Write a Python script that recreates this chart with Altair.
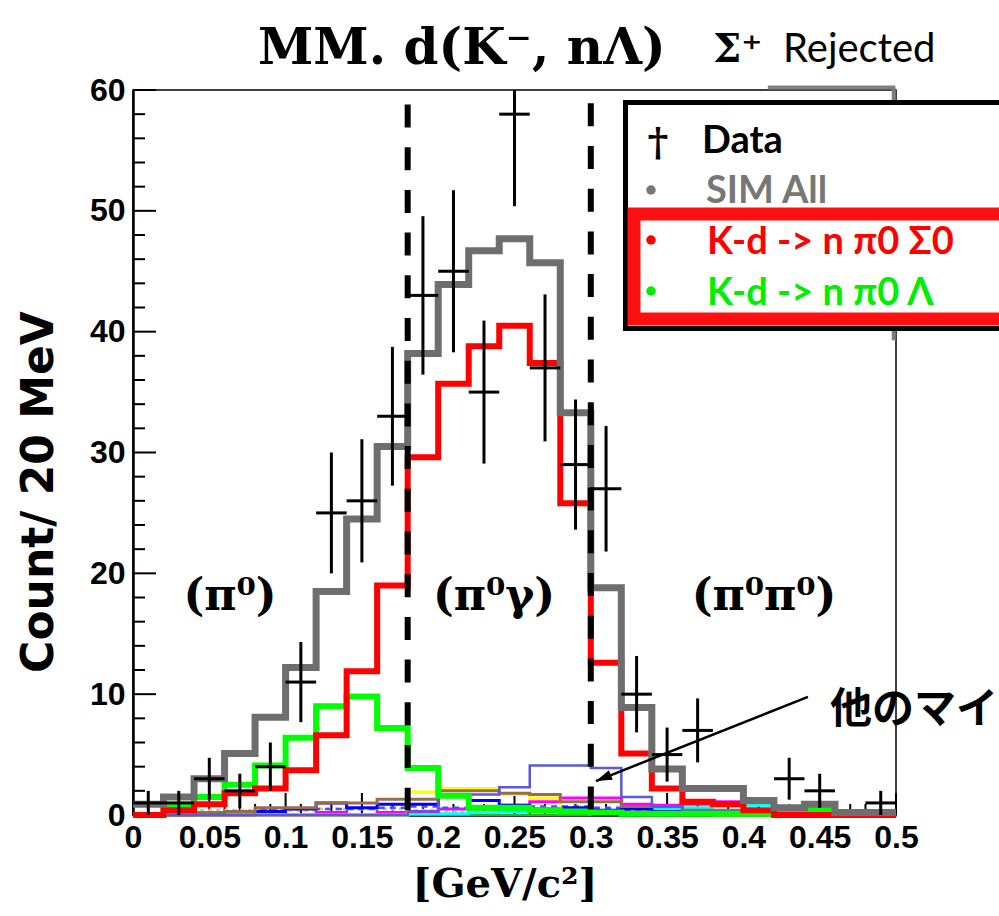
import altair as alt
import numpy as np
import pandas as pd

# ---- 20 MeV bins of the missing mass MM.d(K-, nΛ) in GeV/c^2 ----
bin_lo = [round(0.02 * i, 2) for i in range(25)]
bin_hi = [round(0.02 * (i + 1), 2) for i in range(25)]
bin_center = [round(0.02 * i + 0.01, 2) for i in range(25)]

# measured counts per bin
data_counts = [1, 1, 3, 2, 4, 11, 25, 26, 33, 43, 45, 35, 58, 37, 29, 27, 10, 5, 7, 0, 0, 3, 2, 0, 1]

# simulation: sum of all channels and the two main channels
sim_all = [0.9, 1.5, 3.0, 5.1, 8.1, 12.2, 18.5, 24.5, 30.5, 38.2, 43.9, 46.7, 47.7, 45.7,
           33.3, 18.8, 8.9, 3.8, 2.2, 2.2, 1.2, 0.6, 0.9, 0.2, 0.2]
sim_sigma0 = [0, 0.4, 0.9, 1.8, 2.2, 3.7, 6.6, 11.9, 19.0, 29.6, 35.7, 38.8, 40.5, 37.4,
              25.8, 12.6, 5.1, 2.2, 1.1, 0.9, 0.4, 0, 0, 0, 0]
sim_lambda = [0, 0.7, 1.5, 2.5, 4.1, 6.4, 9.0, 9.8, 7.2, 3.9, 1.6, 0.6, 0.6, 0.4,
              0.3, 0.2, 0.1, 0.1, 0.1, 0.1, 0.1, 0.1, 0.4, 0.1, 0]

# minor channels
minor_slate = [0, 0, 0, 0, 0, 0, 0, 0, 0, 0.3, 1.6, 1.7, 2.3, 4.1, 4.1, 3.9, 1.5, 0.7, 0.3, 0.3, 0.2, 0.1, 0, 0, 0]
minor_brown = [0, 0, 0.2, 0.3, 0.6, 0.6, 1.0, 1.0, 1.3, 1.3, 2.0, 2.0, 1.8, 1.7, 1.1, 1.1, 0.7, 0.7, 0.4, 0.4, 0.2, 0.2, 0.1, 0, 0]
minor_yellow = [0, 0, 0, 0, 0, 0, 0, 0, 0, 1.9, 2.2, 2.2, 1.7, 1.4, 0.3, 0.3, 0.2, 0.1, 0.1, 0, 0, 0, 0, 0, 0]
minor_blue = [0, 0, 0, 0, 0.3, 0.5, 1.0, 0.6, 0.9, 0.9, 1.7, 1.2, 0.8, 0.5, 0.6, 0.4, 0.5, 0.3, 0.2, 0.1, 0, 0, 0, 0, 0]
minor_magenta = [0, 0, 0, 0, 0, 0, 0.2, 0, 0.2, 0.3, 0.5, 0.5, 0.8, 1.1, 1.4, 1.4, 0.9, 0.8, 0.9, 1.1, 1.1, 0.4, 0.2, 0, 0]
minor_cyan = [0, 0, 0, 0, 0, 0, 0, 0, 0, 0.1, 0.1, 0.2, 0.3, 0.3, 0.3, 0.3, 0.7, 0.5, 0.6, 0.8, 0.8, 0.3, 0, 0, 0]
minor_tan = [0, 0.3, 0.4, 0.4, 0.4, 0.4, 0.5, 0.5, 0.5, 0.4, 0.3, 0.3, 0.3, 0.3, 0.4, 0.3, 0.3, 0.2, 0.1, 0.1, 0, 0, 0, 0, 0]
minor_dashblue = [0, 0, 0, 0, 0.4, 0.5, 0.5, 0.5, 0.6, 0.7, 0.6, 0.6, 0.7, 0.7, 0.7, 0.6, 0.4, 0.2, 0.1, 0, 0, 0, 0, 0, 0]
minor_dkgreen = [0] * 15 + [0.1] * 8 + [0, 0]

# selection cuts (GeV/c^2)
cut_edges = [0.18, 0.30]

# axis tick values
x_major = [round(0.05 * i, 2) for i in range(11)]
x_minor = [round(0.01 * i, 2) for i in range(51) if i % 5 != 0]
y_major = [0, 10, 20, 30, 40, 50, 60]
y_minor = [v for v in range(0, 61, 2) if v % 10 != 0]

# annotation arrow (tail -> head) in data units
arrow_x = [0.4423, 0.3034]
arrow_y = [9.77, 2.81]

W, H = 763, 725

X_SCALE = alt.Scale(domain=[0, 0.5], nice=False, zero=False)
Y_SCALE = alt.Scale(domain=[0, 60], nice=False, zero=False)
X_AXIS = alt.Axis(values=x_major, format="~g", ticks=False, grid=False, labelFlush=False,
                  domainColor="black", domainWidth=2.5, labelPadding=7, title=None)
Y_AXIS = alt.Axis(values=y_major, format="d", ticks=False, grid=False, labelFlush=False,
                  domainColor="black", domainWidth=2.5, labelPadding=8, title=None)


def X(field):
    return alt.X(field, type="quantitative", scale=X_SCALE, axis=X_AXIS)


def Y(field):
    return alt.Y(field, type="quantitative", scale=Y_SCALE, axis=Y_AXIS)


def step_line(values, color, width, dash=None):
    df = pd.DataFrame({"x": bin_lo + [0.5], "y": list(values) + [values[-1]]})
    kw = dict(interpolate="step-after", color=color, strokeWidth=width,
              strokeJoin="miter", strokeCap="butt")
    if dash:
        kw["strokeDash"] = dash
    return alt.Chart(df).mark_line(**kw).encode(x=X("x"), y=Y("y"))


one = pd.DataFrame({"k": [0]})


def label(text, x, y, size, font, color="black", weight="bold", align="left",
          baseline="alphabetic", angle=None):
    kw = dict(text=text, font=font, fontSize=size, fontWeight=weight, color=color,
              align=align, baseline=baseline)
    if angle is not None:
        kw["angle"] = angle
    return alt.Chart(one).mark_text(**kw).encode(x=alt.value(x), y=alt.value(y))


layers = []

# axis ticks drawn inside the frame
layers.append(alt.Chart(pd.DataFrame({"v": y_major})).mark_rule(color="black", strokeWidth=2)
              .encode(y=Y("v"), x=alt.value(0), x2=alt.value(23)))
layers.append(alt.Chart(pd.DataFrame({"v": y_minor})).mark_rule(color="black", strokeWidth=2)
              .encode(y=Y("v"), x=alt.value(0), x2=alt.value(12)))
layers.append(alt.Chart(pd.DataFrame({"v": x_major})).mark_rule(color="black", strokeWidth=2)
              .encode(x=X("v"), y=alt.value(H), y2=alt.value(H - 22)))
layers.append(alt.Chart(pd.DataFrame({"v": x_minor})).mark_rule(color="black", strokeWidth=2)
              .encode(x=X("v"), y=alt.value(H), y2=alt.value(H - 11)))

# minor simulated channels
layers += [
    step_line(minor_dkgreen, "#22bb22", 2),
    step_line(minor_tan, "#d6c68e", 3, [4, 4]),
    step_line(minor_cyan, "#00ffff", 3),
    step_line(minor_magenta, "#ff00ff", 3),
    step_line(minor_dashblue, "#4d4dff", 2.5, [6, 5]),
    step_line(minor_blue, "#0000ff", 3),
    step_line(minor_yellow, "#ffff00", 3),
    step_line(minor_brown, "#9a6a4c", 3),
    step_line(minor_slate, "#5a5ad8", 2.5),
]

# main channels and total
layers += [
    step_line(sim_lambda, "#00ff00", 6),
    step_line(sim_sigma0, "#ff0000", 6),
    step_line(sim_all, "#6e6e6e", 7),
]

# data points with sqrt(N) error bars
ddf = pd.DataFrame({"lo": bin_lo, "hi": bin_hi, "c": bin_center, "n": data_counts})
ddf = ddf[ddf["n"] > 0].copy()
ddf["elo"] = ddf["n"] - np.sqrt(ddf["n"])
ddf["ehi"] = ddf["n"] + np.sqrt(ddf["n"])
layers.append(alt.Chart(ddf).mark_rule(color="black", strokeWidth=3, clip=True)
              .encode(x=X("lo"), x2="hi", y=Y("n")))
layers.append(alt.Chart(ddf).mark_rule(color="black", strokeWidth=3, clip=True)
              .encode(x=X("c"), y=Y("elo"), y2="ehi"))

# dashed cut lines
cdf = pd.DataFrame({"x": cut_edges, "top": [58.8, 58.9], "bot": [0.4, 0.4]})
layers.append(alt.Chart(cdf).mark_rule(color="black", strokeWidth=6, strokeDash=[23, 19.7])
              .encode(x=X("x"), y=Y("top"), y2="bot"))

# grey box remnant at the top right corner
gdf_h = pd.DataFrame({"x": [0.416], "x2": [0.4995], "y": [60.2]})
gdf_v = pd.DataFrame({"x": [0.4985], "y": [60.2], "y2": [39.3]})
layers.append(alt.Chart(gdf_h).mark_rule(color="#808080", strokeWidth=4)
              .encode(x=X("x"), x2="x2", y=Y("y")))
layers.append(alt.Chart(gdf_v).mark_rule(color="#808080", strokeWidth=4)
              .encode(x=X("x"), y=Y("y"), y2="y2"))

# arrow towards the minor channels
adf = pd.DataFrame({"x": [arrow_x[0]], "y": [arrow_y[0]], "x2": [arrow_x[1]], "y2": [arrow_y[1]]})
layers.append(alt.Chart(adf).mark_rule(color="black", strokeWidth=2.5)
              .encode(x=X("x"), y=Y("y"), x2="x2", y2="y2"))
hdf = pd.DataFrame({"x": [arrow_x[1]], "y": [arrow_y[1]]})
layers.append(alt.Chart(hdf).mark_point(shape="M0,0L-2,-0.65L-2,0.65Z", filled=True, color="black",
                                        opacity=1, size=256, angle=158)
              .encode(x=X("x"), y=Y("y")))

# region labels
layers += [
    label("(π⁰)", 97, 520, 44, "DejaVu Serif", align="center"),
    label("(π⁰γ)", 361, 520, 44, "DejaVu Serif", align="center"),
    label("(π⁰π⁰)", 631, 520, 44, "DejaVu Serif", align="center"),
    label("他のマイ", 697, 633, 42, "Noto Sans CJK JP"),
]

# titles
layers += [
    label("MM. d(K⁻, nΛ)", 125, -26, 50, "DejaVu Serif"),
    label("Σ⁺", 580, -28, 40, "DejaVu Serif"),
    label("Rejected", 650, -28, 40, "Lato", weight="normal"),
    label("[GeV/c²]", 372, 807, 40, "DejaVu Serif", align="center"),
    label("Count/  20 MeV", -80, 402, 44, "DejaVu Sans", align="center", angle=270),
]

# legend box
layers.append(alt.Chart(one).mark_rect(fill="white", stroke="black", strokeWidth=5)
              .encode(x=alt.value(492.5), x2=alt.value(880), y=alt.value(12.5), y2=alt.value(238.5)))
layers.append(alt.Chart(one).mark_rect(fill="white", stroke="#ff1010", strokeWidth=13)
              .encode(x=alt.value(501), x2=alt.value(890), y=alt.value(124), y2=alt.value(229)))

dots = pd.DataFrame({"y": [100, 150, 201], "c": ["#777777", "#ff0000", "#00ee00"]})
layers.append(alt.Chart(dots).mark_point(shape="circle", filled=True, opacity=1, size=90)
              .encode(x=alt.value(518), y=alt.Y("y:Q", scale=None),
                      color=alt.Color("c:N", scale=None)))

layers += [
    label("†", 525, 66, 40, "DejaVu Serif", align="center"),
    label("Data", 569, 63, 38, "Lato"),
    label("SIM All", 573, 113, 38, "Lato", color="#777777"),
    label("K-d -> n π0 Σ0", 574, 164, 38, "Lato", color="#ff0000"),
    label("K-d -> n π0 Λ", 574, 215, 38, "Lato", color="#00ee00"),
]

chart = (
    alt.layer(*layers)
    .properties(width=W, height=H, autosize=alt.AutoSizeParams(type="none"),
                padding={"left": 133, "top": 90, "right": 103, "bottom": 101})
    .configure_view(stroke="black", strokeWidth=1.5)
    .configure_axis(labelFont="Liberation Sans", labelFontSize=32, labelFontWeight="bold",
                    labelColor="black")
)

chart.save("out.html", embed_options={"renderer": "svg", "actions": False})
